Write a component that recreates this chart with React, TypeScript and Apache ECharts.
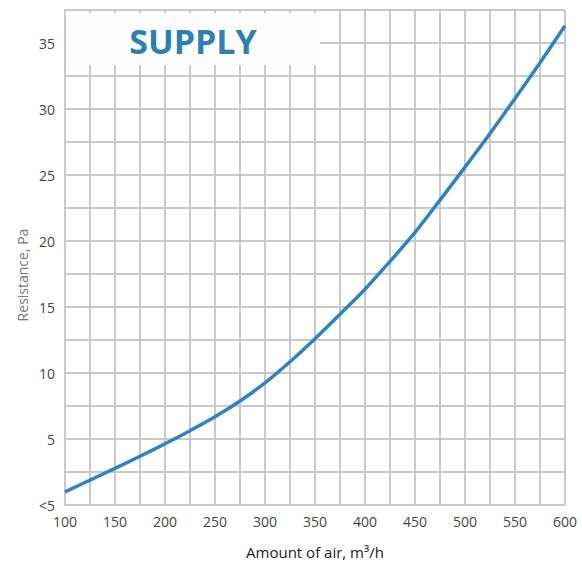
import React, { useEffect, useRef } from "react";
import * as echarts from "echarts";

const airflow = [100, 125, 150, 175, 200, 225, 250, 275, 300, 325, 350, 375, 400, 425, 450, 475, 500, 525, 550, 575, 600];
const resistance = [1.0, 1.88, 2.78, 3.69, 4.64, 5.63, 6.68, 7.88, 9.25, 10.85, 12.6, 14.45, 16.35, 18.45, 20.65, 23.1, 25.6, 28.15, 30.8, 33.5, 36.3];
const yLabels: Record<string, string> = { "0": "<5", "5": "5", "10": "10", "15": "15", "20": "20", "25": "25", "30": "30", "35": "35" };
const title = "SUPPLY";
const xName = "Amount of air, m³/h";
const yName = "Resistance, Pa";

export default function App() {
  const ref = useRef<HTMLDivElement>(null);
  useEffect(() => {
    const chart = echarts.init(ref.current!, undefined, { renderer: "svg" });
    const gridColor = "#c9c9c9";
    const font = "Open Sans";
    chart.setOption({
      animation: false,
      textStyle: { fontFamily: font },
      grid: { left: 65, right: 17, top: 10, bottom: 57 },
      xAxis: {
        type: "value",
        min: 100,
        max: 600,
        interval: 25,
        axisLine: { lineStyle: { color: gridColor, width: 2 } },
        axisTick: { show: false },
        splitLine: { lineStyle: { color: gridColor, width: 2 } },
        axisLabel: {
          color: "#444",
          fontSize: 14,
          margin: 9,
          fontFamily: font,
          formatter: (v: number) => (v % 50 === 0 ? String(v) : ""),
        },
        name: xName,
        nameLocation: "middle",
        nameGap: 39,
        nameTextStyle: { color: "#222", fontSize: 15, fontFamily: font },
      },
      yAxis: {
        type: "value",
        min: 0,
        max: 37.5,
        interval: 2.5,
        axisLine: { show: true, lineStyle: { color: gridColor, width: 2 } },
        axisTick: { show: false },
        splitLine: { lineStyle: { color: gridColor, width: 2 } },
        axisLabel: {
          color: "#444",
          fontSize: 14,
          margin: 10,
          fontFamily: font,
          formatter: (v: number) => yLabels[String(v)] ?? "",
        },
      },
      graphic: [
        {
          type: "rect",
          shape: { x: 66, y: 13, width: 254, height: 52 },
          style: { fill: "#fdfdfd" },
          z: 10,
        },
        {
          type: "text",
          x: 193,
          y: 41,
          z: 11,
          style: {
            text: title,
            fill: "#2e80b0",
            fontSize: 34,
            fontWeight: "bold",
            fontFamily: font,
            align: "center",
            verticalAlign: "middle",
          },
        },
        {
          type: "text",
          x: 22,
          y: 275,
          rotation: Math.PI / 2,
          style: {
            text: yName,
            fill: "#777",
            fontSize: 14,
            fontFamily: font,
            align: "center",
            verticalAlign: "middle",
          },
        },
      ],
      series: [
        {
          type: "line",
          data: airflow.map((x, i) => [x, resistance[i]]),
          smooth: 0.3,
          showSymbol: false,
          lineStyle: { color: "#2f83c3", width: 3.5 },
          z: 5,
        },
      ],
    });
    return () => chart.dispose();
  }, []);
  return <div ref={ref} style={{ width: 582, height: 564, position: "absolute", left: 0, top: 0 }} />;
}
